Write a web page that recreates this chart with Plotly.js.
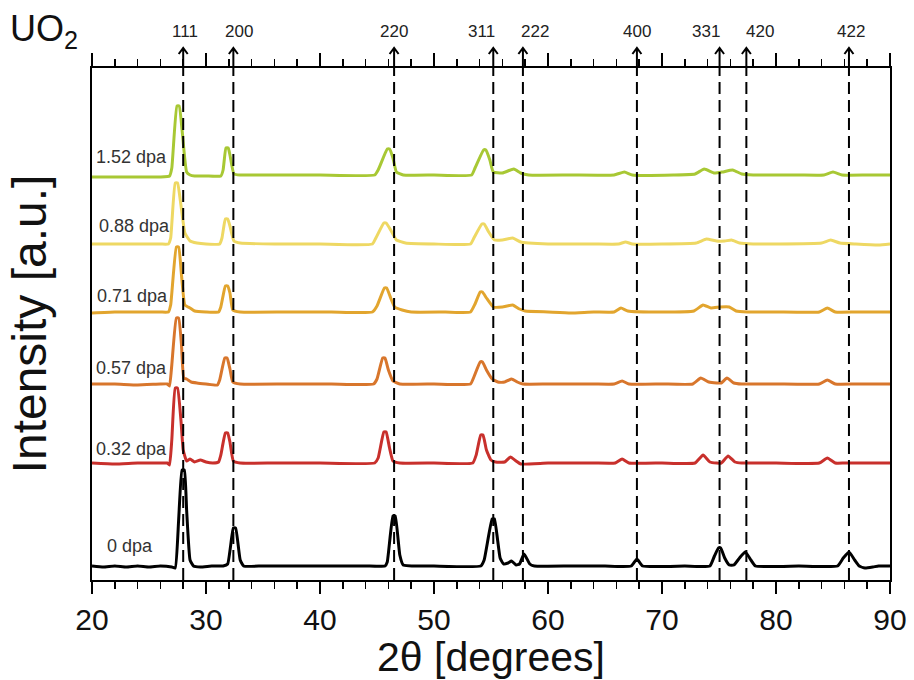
<!DOCTYPE html>
<html><head><meta charset="utf-8">
<script src="https://cdn.plot.ly/plotly-3.0.1.min.js"></script>
<style>html,body{margin:0;padding:0;background:#fff;} #chart{width:914px;height:680px;}</style>
</head><body><div id="chart"></div>
<script>
// Miller indices of UO2 reflections and their 2θ positions (degrees)
const hklLabels = ['111','200','220','311','222','400','331','420','422'];
const hklPeaks  = [28.0, 32.4, 46.5, 55.2, 57.8, 67.8, 75.05, 77.4, 86.4];

// Dose labels
const doseLabels = ['0 dpa','0.32 dpa','0.57 dpa','0.71 dpa','0.88 dpa','1.52 dpa'];

// 0 dpa
const x0 = [20,21,22,23,24,25,26,27,27.3,27.6,27.9,28.1,28.3,28.6,28.9,29.5,30.5,31.5,31.9,32.4,32.6,33.0,33.3,35,38,41,44,45.7,45.9,46.4,46.6,47.0,47.3,50,54.1,54.4,55.1,55.3,55.8,56.1,56.5,56.8,57.2,57.5,57.9,58.4,58.8,62,65,67.3,67.8,68.3,72,74.2,74.6,74.95,75.15,75.5,75.9,76.3,76.8,77.3,77.8,78.2,82,85.4,85.9,86.4,86.9,87.3,87.8,88.5,89,90];
const y0 = [14,13,14,13,14,13,14,13,12,60,110,110,70,20,14,13,14,14,16,52,52,20,14,14,14,14,14,14,18,64,64,25,15,14,14,20,61,61,22,16,17,19,15,16,26,16,14,14,14,14,21,14,14,14,24,32,32,22,15,15,22,28,20,14,14,14,22,28,20,14,12,13,14,14];

// 0.32 dpa
const x1 = [20,22,24,26,26.6,26.8,27.0,27.3,27.5,27.8,28.0,28.3,28.6,29.0,29.5,30,30.6,31.1,31.3,31.7,31.9,32.1,32.4,33,36,40,44.8,45.1,45.6,45.8,46.1,46.4,47,50,53.4,53.7,54.1,54.3,54.6,55.0,55.4,56.2,56.7,57.2,57.6,60,64,65.9,66.5,67.1,70,72.9,73.6,74.2,74.8,75.2,75.8,76.4,77,80,83.8,84.5,85.2,86,88,90];
const y1 = [117,116,117,117,117,115,140,192,192,160,130,119,121,118,120,118,117,118,125,147,147,138,119,117,117,117,117,122,148,148,132,119,117,117,117,125,145,145,130,120,118,118,123,119,116,117,117,117,121,117,117,117,125,118,117,117,124,118,117,117,117,122,117,117,117,117];

// 0.57 dpa
const x2 = [20,22,24,26,26.6,26.8,27.0,27.4,27.6,27.85,28.05,28.3,28.7,29.2,30,31.0,31.2,31.65,31.85,32.1,32.35,33,37,41,44.7,45.0,45.5,45.7,46.0,46.4,47,50,53.2,53.5,54.05,54.25,54.6,55.1,55.6,56.2,56.8,57.3,57.8,60,64,65.8,66.5,67.1,70,72.7,73.4,74.1,74.8,75.2,75.7,76.3,77,80,83.8,84.5,85.2,87,90];
const y2 = [196,196,195,196,196,194,215,262,262,235,202,201,198,197,196,195,200,222,222,211,198,196,196,196,196,201,222,222,210,199,196,196,196,203,218,218,210,201,198,198,201,198,196,196,196,196,199,196,196,196,202,198,197,197,202,197,196,196,196,200,196,196,196];

// 0.71 dpa
const x3 = [20,22,24,26,26.7,26.9,27.4,27.6,27.85,28.15,28.6,29.0,30,31.1,31.3,31.7,31.9,32.1,32.35,33,37,41,44.6,45.0,45.65,45.85,46.2,46.55,47.2,48,51,53.2,53.6,54.05,54.25,54.6,55.2,56.0,56.9,57.5,58,60,62,64,65.8,66.4,67.0,70,72.8,73.6,74.3,75.1,75.9,76.5,77.5,80,83.8,84.5,85.2,87,90];
const y3 = [267,268,268,268,268,275,333,333,305,275,272,269,268,268,273,294,294,287,270,268,268,268,268,274,292,292,282,273,270,268,268,268,276,288,288,282,273,273,275,271,269,268,267,268,268,272,269,268,269,275,272,273,273,269,268,268,268,272,268,268,268];

// 0.88 dpa
const x4 = [20,22,24,26,26.7,26.9,27.3,27.5,27.8,28.15,28.6,29.2,30,31.2,31.4,31.7,31.9,32.1,32.45,33,36,40,44.6,44.9,45.6,45.8,46.2,46.7,47.5,50,53.2,53.5,54.2,54.4,54.8,55.3,56.0,56.9,57.6,58.3,60,64,66.2,66.8,67.4,70,73.0,73.9,74.8,75.5,76.1,76.8,78,80,84.0,84.8,85.6,87,89,90];
const y4 = [336,336,336,336,336,342,397,397,375,347,339,337,336,336,342,361,361,354,339,337,336,336,336,342,357,357,350,340,337,336,336,342,356,356,348,340,340,342,338,337,336,336,336,338,336,336,337,341,339,339,340,337,336,336,337,340,337,336,335,336];

// 1.52 dpa
const x5 = [20,22,24,26,26.8,27.0,27.45,27.65,27.9,28.3,28.6,29,30,31.3,31.5,31.75,31.95,32.1,32.45,33,36,40,44.8,45.1,45.9,46.1,46.4,46.7,47.3,50,53.3,53.6,54.35,54.55,54.9,55.2,56.0,57.0,57.6,58.3,62,65.8,66.7,67.4,71,72.9,73.7,74.6,75.3,76.2,77.0,78,82,84.2,85.0,85.8,88,90];
const y5 = [403,403,403,403,404,412,474,474,450,408,405,404,404,404,410,432,432,425,406,405,405,405,405,410,431,431,422,408,405,405,405,412,430,430,420,408,407,411,407,405,405,405,408,405,405,406,411,407,408,410,406,405,405,405,408,405,405,405];

const seriesX = [x0,x1,x2,x3,x4,x5];
const seriesY = [y0,y1,y2,y3,y4,y5];
const colors = ['#000000','#C8302C','#D8762C','#E2A52E','#EED863','#A8C834'];

const FONT = 'Liberation Sans, Arial, Helvetica, sans-serif';

const traces = seriesX.map((xs, i) => ({
  x: xs, y: seriesY[i], type: 'scatter', mode: 'lines',
  name: doseLabels[i],
  line: {color: colors[i], width: 3, shape: 'spline', smoothing: 0.4},
  hoverinfo: 'skip', showlegend: false
}));
// invisible trace to anchor the top axis
traces.push({x: [20, 90], y: [0, 0], xaxis: 'x2', yaxis: 'y', mode: 'markers',
  marker: {opacity: 0}, showlegend: false, hoverinfo: 'skip'});

const labelPos = {
  '0 dpa':   [21.1, 34],
  '0.32 dpa':[20.15, 131],
  '0.57 dpa':[20.15, 212],
  '0.71 dpa':[20.3, 284],
  '0.88 dpa':[20.4, 354],
  '1.52 dpa':[20.2, 423]
};
const hklTextShift = [0.2, 0.5, 0.0, -1.0, 1.1, 0.05, -1.15, 1.2, 0.2];

const annotations = [];
doseLabels.forEach(lbl => {
  annotations.push({x: labelPos[lbl][0], y: labelPos[lbl][1], xref: 'x', yref: 'y',
    text: lbl, showarrow: false, xanchor: 'left', yanchor: 'middle',
    font: {family: FONT, size: 18, color: '#333'}});
});
hklPeaks.forEach((p, i) => {
  annotations.push({x: p + hklTextShift[i], y: 1.072, xref: 'x', yref: 'paper', text: hklLabels[i],
    showarrow: false, xanchor: 'center', yanchor: 'middle',
    font: {family: FONT, size: 17, color: '#222'}});
});
annotations.push({x: -0.105, y: 1.073, xref: 'paper', yref: 'paper', text: 'UO<sub>2</sub>',
  showarrow: false, xanchor: 'left', yanchor: 'middle',
  font: {family: FONT, size: 36, color: '#111'}});

const shapes = [];
hklPeaks.forEach(p => {
  // dashed marker line through the plot
  shapes.push({type: 'line', xref: 'x', yref: 'paper', x0: p, x1: p, y0: 0, y1: 1,
    line: {color: '#000', width: 2, dash: '12px,6px'}, layer: 'above'});
  // arrow above the top axis (pixel-sized, anchored at the peak position)
  shapes.push({type: 'path', xref: 'x', yref: 'paper', xsizemode: 'pixel', ysizemode: 'pixel',
    xanchor: p, yanchor: 1, path: 'M0,0 L0,20 M-4.5,14 L0,20 L4.5,14',
    line: {color: '#000', width: 2}, layer: 'above'});
});

const layout = {
  width: 914, height: 680,
  margin: {l: 92, r: 24, t: 68, b: 100},
  paper_bgcolor: '#fff', plot_bgcolor: '#fff',
  font: {family: FONT, color: '#111'},
  showlegend: false,
  xaxis: {
    range: [20, 90], tick0: 20, dtick: 10, ticks: 'outside', ticklen: 12, tickwidth: 2,
    tickcolor: '#000', showline: true, linewidth: 2, linecolor: '#000', showgrid: false, zeroline: false,
    minor: {dtick: 2, ticks: 'outside', ticklen: 7, tickwidth: 1.5, tickcolor: '#000', showgrid: false},
    tickfont: {family: FONT, size: 30, color: '#111'},
    title: {text: '2θ [degrees]', font: {family: FONT, size: 41, color: '#111'}, standoff: 6}
  },
  xaxis2: {
    overlaying: 'x', side: 'top', anchor: 'y', range: [20, 90], tick0: 20, dtick: 10,
    ticks: 'outside', ticklen: 13, tickwidth: 2, tickcolor: '#000',
    showline: true, linewidth: 2, linecolor: '#000', showgrid: false, zeroline: false,
    showticklabels: false,
    minor: {dtick: 2, ticks: 'outside', ticklen: 7, tickwidth: 1.5, tickcolor: '#000', showgrid: false}
  },
  yaxis: {
    range: [0, 512], showline: true, mirror: true, linewidth: 2, linecolor: '#000',
    ticks: '', showticklabels: false, showgrid: false, zeroline: false,
    title: {text: 'Intensity [a.u.]', font: {family: FONT, size: 48, color: '#111'}, standoff: 28}
  },
  annotations: annotations,
  shapes: shapes
};

Plotly.newPlot('chart', traces, layout, {displayModeBar: false, staticPlot: true});
</script>
</body></html>
